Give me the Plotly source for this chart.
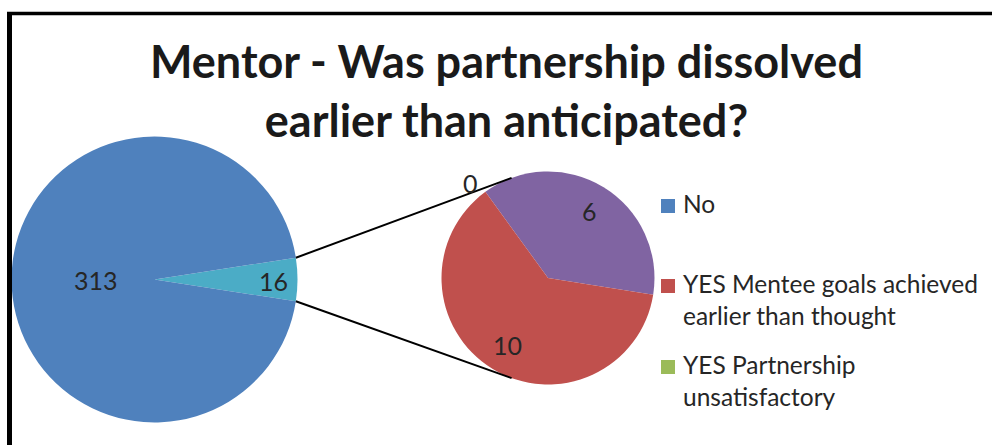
import math
import plotly.graph_objects as go

# --- data -------------------------------------------------------------
main_labels = ["No", "YES (all reasons)"]
detail_labels = ["YES Other", "YES Mentee goals achieved earlier than thought",
                 "YES Partnership unsatisfactory"]
detail_values = [6, 10, 0]
no_value = 313
main_values = [sum(detail_values), no_value]

legend_labels = ["No", "YES Mentee goals achieved<br>earlier than thought",
                 "YES Partnership<br>unsatisfactory"]

title_text = "Mentor - Was partnership dissolved<br>earlier than anticipated?"

# --- styling ----------------------------------------------------------
W, H = 992, 445
BLUE, RED, GREEN, PURPLE, TEAL = "#4F81BD", "#C0504D", "#9BBB59", "#8064A2", "#4BACC6"
TEXT = "#262626"
FONT = "Lato"


def px(x):
    return x / W


def py(y):
    return 1 - y / H


# pie geometry in pixels
mc, mr = (154.5, 279.5), 143.0      # main pie centre / radius
dc, dr = (548.0, 278.0), 106.5      # detail pie centre / radius

fig = go.Figure()

# main pie: the combined "YES" slice is centred on 3 o'clock
half = 180.0 * main_values[0] / sum(main_values)
fig.add_trace(go.Pie(
    labels=main_labels, values=main_values, sort=False, direction="clockwise",
    rotation=90 - half, textinfo="none", showlegend=False,
    marker=dict(colors=[TEAL, BLUE], line=dict(width=0)),
    domain=dict(x=[px(mc[0] - mr), px(mc[0] + mr)],
                y=[py(mc[1] + mr), py(mc[1] - mr)]),
))

# detail pie breaking down the YES answers
fig.add_trace(go.Pie(
    labels=detail_labels, values=detail_values, sort=False, direction="clockwise",
    rotation=324, textinfo="none", showlegend=False,
    marker=dict(colors=[PURPLE, RED, GREEN], line=dict(width=0)),
    domain=dict(x=[px(dc[0] - dr), px(dc[0] + dr)],
                y=[py(dc[1] + dr), py(dc[1] - dr)]),
))

shapes = []
# connector lines from the YES slice edges to the detail pie
for sgn in (-1, 1):
    a = math.radians(half)
    x0 = mc[0] + mr * math.cos(a)
    y0 = mc[1] + sgn * mr * math.sin(a)
    b = math.radians(20)
    x1 = dc[0] - dr * math.sin(b)
    y1 = dc[1] + sgn * dr * math.cos(b)
    shapes.append(dict(type="line", xref="paper", yref="paper",
                       x0=px(x0), y0=py(y0), x1=px(x1), y1=py(y1),
                       line=dict(color="black", width=2)))

# chart frame (top and left edges visible)
shapes.append(dict(type="line", xref="paper", yref="paper",
                   x0=px(7), x1=1.02, y0=py(13.5), y1=py(13.5),
                   line=dict(color="black", width=3.5)))
shapes.append(dict(type="line", xref="paper", yref="paper",
                   x0=px(9.5), x1=px(9.5), y0=py(12), y1=-0.02,
                   line=dict(color="black", width=5)))

annotations = [dict(text=title_text, x=px(506), y=py(90), xref="paper", yref="paper",
                    showarrow=False, xanchor="center", yanchor="middle",
                    font=dict(family=FONT, size=45, color="#1a1a1a", weight="bold"))]

# value labels
label_pos = [
    (no_value, 95.5, 280),
    (main_values[0], 273, 280.5),
    (detail_values[2], 470, 183),
    (detail_values[0], 589, 210.5),
    (detail_values[1], 507.5, 345),
]
for v, x, y in label_pos:
    annotations.append(dict(text=str(v), x=px(x), y=py(y), xref="paper", yref="paper",
                            showarrow=False, xanchor="center", yanchor="middle",
                            font=dict(family=FONT, size=25, color=TEXT)))

# legend
legend_colors = [BLUE, RED, GREEN]
legend_rows = [206, 286, 367]
for lab, col, yc in zip(legend_labels, legend_colors, legend_rows):
    shapes.append(dict(type="rect", xref="paper", yref="paper",
                       x0=px(661), x1=px(675), y0=py(yc + 7), y1=py(yc - 7),
                       fillcolor=col, line=dict(width=0)))
    annotations.append(dict(text=lab, x=px(681), y=py(yc - 19), xref="paper", yref="paper",
                            showarrow=False, xanchor="left", yanchor="top", align="left",
                            font=dict(family=FONT, size=24.5, color=TEXT)))

fig.update_layout(
    width=W, height=H, autosize=False,
    margin=dict(l=0, r=0, t=0, b=0),
    paper_bgcolor="white", plot_bgcolor="white",
    shapes=shapes, annotations=annotations,
)

fig.write_html("out.html")
